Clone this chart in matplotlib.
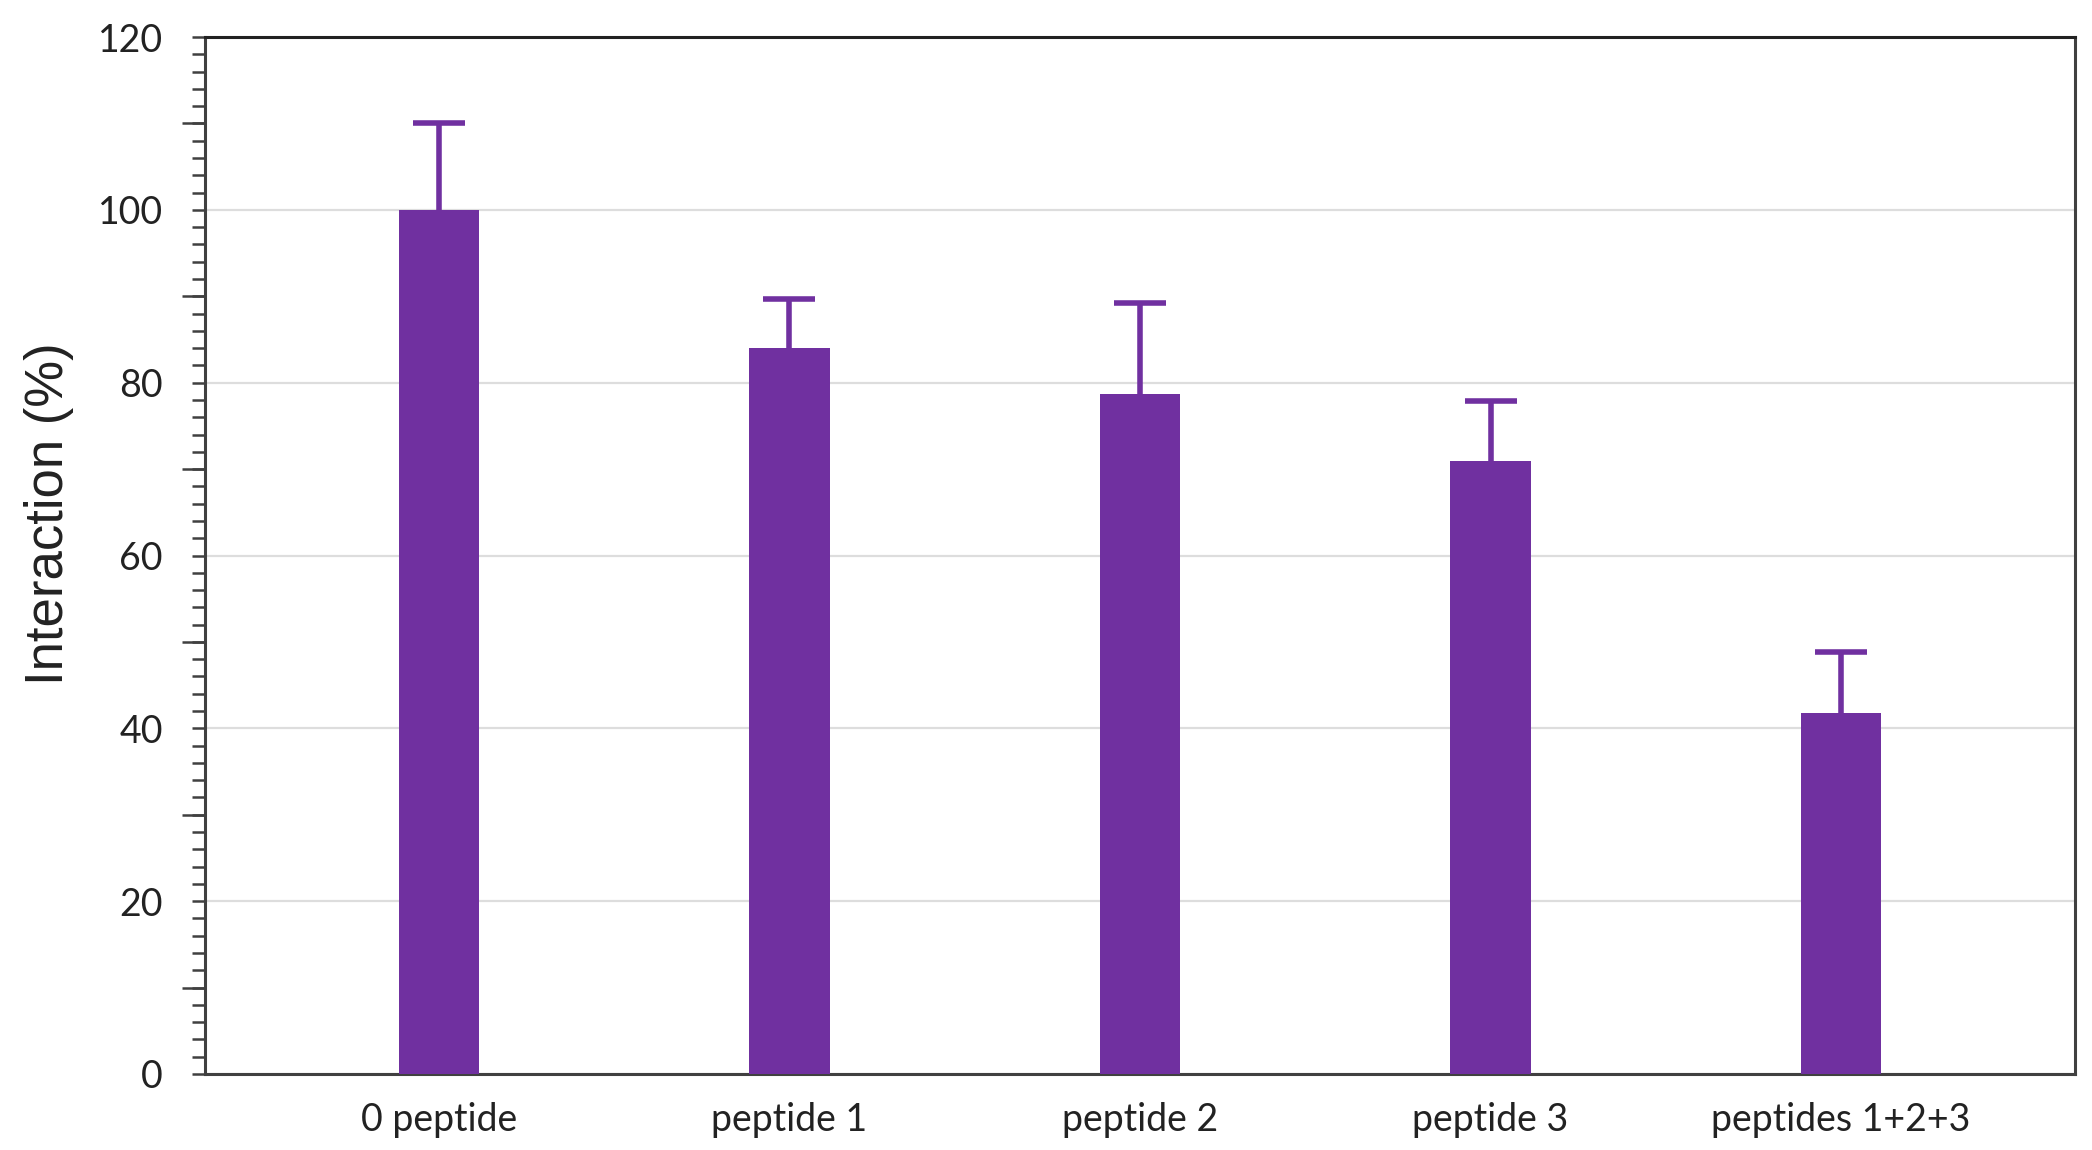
import numpy as np
import matplotlib.pyplot as plt
from matplotlib.ticker import MultipleLocator, FixedLocator, NullFormatter

# data
groups = ["0 peptide", "peptide 1", "peptide 2", "peptide 3", "peptides 1+2+3"]
interaction = [100, 84, 78.7, 70.9, 41.8]
err_up = [10, 5.7, 10.5, 7.0, 7.0]

purple = "#7030A0"
axis_col = "#404040"

fig = plt.figure(figsize=(20.92, 11.5), dpi=100)
ax = fig.add_axes([205 / 2092, 1 - 1074 / 1150, 1870 / 2092, 1037 / 1150])

x = np.arange(len(groups))
ax.bar(x, interaction, width=0.23, color=purple, zorder=3)
eb = ax.errorbar(x, interaction, yerr=[np.zeros(len(err_up)), err_up], fmt="none",
                 ecolor=purple, elinewidth=4, capsize=19, capthick=4, zorder=4)
# only the upper caps
eb[1][0].set_visible(False)

ax.set_xlim(-0.667, len(groups) - 1 + 0.667)
ax.set_ylim(0, 120)
ax.set_xticks(x)
ax.set_xticklabels(groups, fontsize=27, family="Lato", color="#222222")
ax.tick_params(axis="x", length=0, pad=20)

ax.yaxis.set_major_locator(MultipleLocator(20))
ax.yaxis.set_minor_locator(MultipleLocator(2))
ax.tick_params(axis="y", which="both", length=9.4, width=1.8, color=axis_col,
               labelsize=27, pad=21)
for lab in ax.get_yticklabels():
    lab.set_family("Lato")
    lab.set_color("#222222")

# longer ticks at the 10s
sec = ax.secondary_yaxis("left")
sec.yaxis.set_major_locator(FixedLocator(np.arange(10, 120, 20)))
sec.yaxis.set_major_formatter(NullFormatter())
sec.tick_params(axis="y", length=16.6, width=1.8, color=axis_col)
sec.spines["left"].set_visible(False)

ax.grid(axis="y", which="major", color="#DDDDDD", linewidth=1.6, zorder=0)
ax.set_axisbelow(True)

for s in ax.spines.values():
    s.set_color(axis_col)
    s.set_linewidth(2.2)
ax.spines["top"].set_color("#222222")

ax.set_ylabel("Interaction (%)", fontsize=38, family="Liberation Sans",
              color="#222222")
ax.yaxis.set_label_coords(-0.07, 0.54)

fig.savefig("out.png", dpi=100)
